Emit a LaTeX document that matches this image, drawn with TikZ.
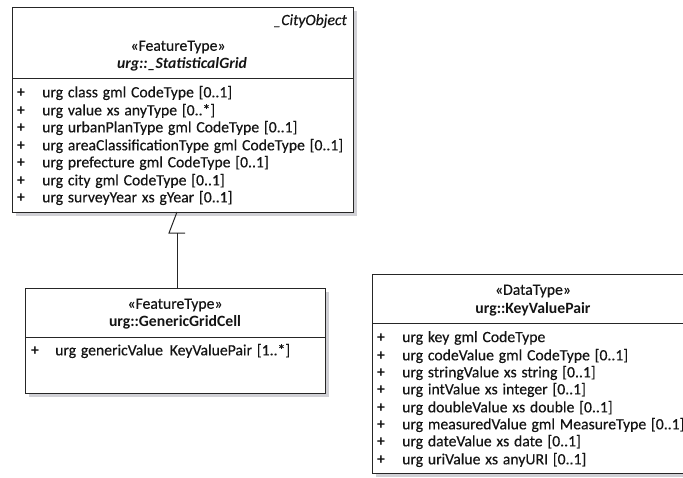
\documentclass[tikz,border=0pt]{standalone}
\usepackage{fontspec}
\setmainfont{Carlito}
\newfontfamily\regfont{Carlito}[FakeBold=0.3]
\newcommand{\diafont}{\fontsize{15.7}{16}\selectfont\spaceskip=4.8pt\relax}
\begin{document}
\begin{tikzpicture}[x=1pt,y=-1pt,
  txt/.style={text=black!92, font=\diafont, inner sep=0pt},
  attr/.style={txt, font=\regfont\diafont, anchor=west},
  plus/.style={txt, font=\diafont\bfseries, anchor=center},
  hdr/.style={txt, font=\regfont\diafont, anchor=center},
  classbox/.style={draw=black!85, line width=1.1pt, fill=white, anchor=north west, inner sep=0pt},
  shadow/.style={fill=gray!30!blue!8!gray!35, draw=none, anchor=north west, inner sep=0pt},
  sep/.style={draw=black!85, line width=0.9pt},
  gen/.style={draw=black!85, line width=1pt}]
\useasboundingbox (0,0) rectangle (683,477);
% --- shadows
\node[shadow, minimum width=341pt, minimum height=205pt] (s1) at (16,11) {};
\node[shadow, minimum width=300pt, minimum height=105pt] (s2) at (29,292) {};
\node[shadow, minimum width=322pt, minimum height=199pt] (s3) at (376,278) {};
% --- boxes
\node[classbox, minimum width=341pt, minimum height=205pt] (b1) at (12,7) {};
\node[classbox, minimum width=300pt, minimum height=105pt] (b2) at (25,288) {};
\node[classbox, minimum width=322pt, minimum height=199pt] (b3) at (372,274) {};
% separators
\coordinate (b1l) at (12,78); \coordinate (b1r) at (353,78);
\draw[sep] (b1l) -- (b1r);
\coordinate (b2l) at (25,337); \coordinate (b2r) at (325,337);
\draw[sep] (b2l) -- (b2r);
\coordinate (b3l) at (372,323); \coordinate (b3r) at (694,323);
\draw[sep] (b3l) -- (b3r);
% --- box 1 header
\node[txt, anchor=east, font=\regfont\diafont\itshape] (b1p) at (347,21) {\_CityObject};
\node[hdr] (b1s) at (178,47) {«FeatureType»};
\node[hdr, font=\diafont\bfseries\itshape] (b1n) at (182,64) {urg::\_StatisticalGrid};
% box 1 attributes
\foreach \y/\t [count=\i] in {93/{urg class gml CodeType [0..1]},
  111/{urg value xs anyType [0..*]},
  128/{urg urbanPlanType gml CodeType [0..1]},
  146/{urg areaClassificationType gml CodeType [0..1]},
  163/{urg prefecture gml CodeType [0..1]},
  181/{urg city gml CodeType [0..1]},
  198/{urg surveyYear xs gYear [0..1]}}{
  \node[plus] (p1\i) at (21,\y) {+};
  \node[attr] (a1\i) at (42,\y) {\t};
}
% --- box 2
\node[hdr] (b2s) at (175,305) {«FeatureType»};
\node[hdr, font=\diafont\bfseries] (b2n) at (175,322) {urg::GenericGridCell};
\node[plus] (p21) at (35,351) {+};
\node[attr] (a21) at (55,351) {urg genericValue\hspace{2pt} KeyValuePair [1..*]};
% --- box 3
\node[hdr] (b3s) at (533,291) {«DataType»};
\node[hdr, font=\diafont\bfseries] (b3n) at (533,309) {urg::KeyValuePair};
\foreach \y/\t [count=\i] in {338/{urg key gml CodeType},
  356/{urg codeValue gml CodeType [0..1]},
  373/{urg stringValue xs string [0..1]},
  390/{urg intValue xs integer [0..1]},
  408/{urg doubleValue xs double [0..1]},
  425/{urg measuredValue gml MeasureType [0..1]},
  442/{urg dateValue xs date [0..1]},
  460/{urg uriValue xs anyURI [0..1]}}{
  \node[plus] (p3\i) at (381,\y) {+};
  \node[attr] (a3\i) at (402,\y) {\t};
}
% --- generalization
\coordinate (tip) at (177,212);
\coordinate (bl) at (169,233);
\coordinate (br) at (185,233);
\coordinate (bm) at (177,233);
\draw[gen] (tip) -- (bl) -- (br);
\draw[gen] (bm) -- (b2.north -| bm);
\end{tikzpicture}
\end{document}
